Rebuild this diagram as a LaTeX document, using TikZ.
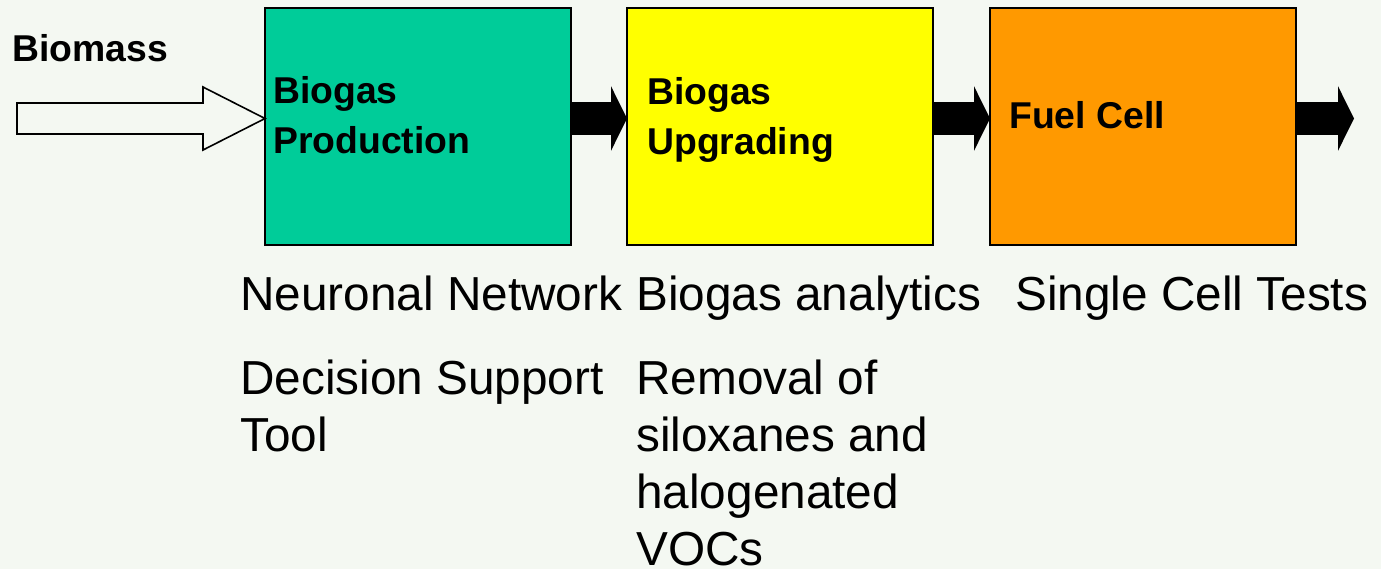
\documentclass[tikz,border=0pt]{standalone}
\usepackage{fontspec}
\setmainfont{Liberation Sans}
\usetikzlibrary{arrows.meta,calc}
\definecolor{bg}{HTML}{F4F8F2}
\definecolor{cgreen}{HTML}{00CC99}
\definecolor{cyellow}{HTML}{FFFF00}
\definecolor{corange}{HTML}{FF9900}
\begin{document}
\begin{tikzpicture}[x=0.75pt,y=-0.75pt,
  stage/.style={draw=black,line width=1.2pt,minimum width=229.5pt,minimum height=177.75pt,inner sep=0pt,outer sep=0pt},
  boldlbl/.style={font=\fontsize{28}{37.5}\selectfont\bfseries,anchor=base west,inner sep=0pt,align=left},
  lbl/.style={font=\fontsize{35.8}{42.75}\selectfont,anchor=base west,inner sep=0pt,align=left},
  blockarrow/.style={line width=24.75pt,-{Triangle[length=12pt,width=48pt]}}
]
\fill[bg] (0,0) rectangle (1381,569);
\useasboundingbox (0,0) rectangle (1381,569);

\node[stage,fill=cgreen] (b1) at (418,126.5) {};
\node[stage,fill=cyellow] (b2) at (780,126.5) {};
\node[stage,fill=corange] (b3) at (1143,126.5) {};

% multi-line nodes: base anchor is the baseline of the last line
\node[boldlbl] (t1) at (273,153) {Biogas\\Production};
\node[boldlbl] (t2) at (647,154) {Biogas\\Upgrading};
\node[boldlbl] (t3) at (1009,128) {Fuel Cell};
\node[boldlbl] (bio) at (12,61) {Biomass};

% hollow input arrow
\coordinate (tip) at ($(b1.west)+(0,-8)$);
\draw[line width=1.2pt,fill=bg,line join=miter]
  (tip) -- ++(-62,-31.5) -- ++(0,16) -- ++(-186,0) -- ++(0,31) -- ++(186,0) -- ++(0,16) -- cycle;

% block arrows
\draw[blockarrow] ($(b1.east)+(0,-8)$) -- ($(b2.west)+(0,-8)$);
\draw[blockarrow] ($(b2.east)+(0,-8)$) -- ($(b3.west)+(0,-8)$);
\coordinate (out) at ($(b3.east)+(58,-8)$);
\draw[blockarrow] ($(b3.east)+(0,-8)$) -- (out);

\node[lbl] (l1) at (240,310) {Neuronal Network};
\node[lbl] (l2) at (636,310) {Biogas analytics};
\node[lbl] (l3) at (1015,310) {Single Cell Tests};
\node[lbl] (l4) at (240,451) {Decision Support\\Tool};
\node[lbl] (l5) at (636,565) {Removal of\\siloxanes and\\halogenated\\VOCs};
\end{tikzpicture}
\end{document}
